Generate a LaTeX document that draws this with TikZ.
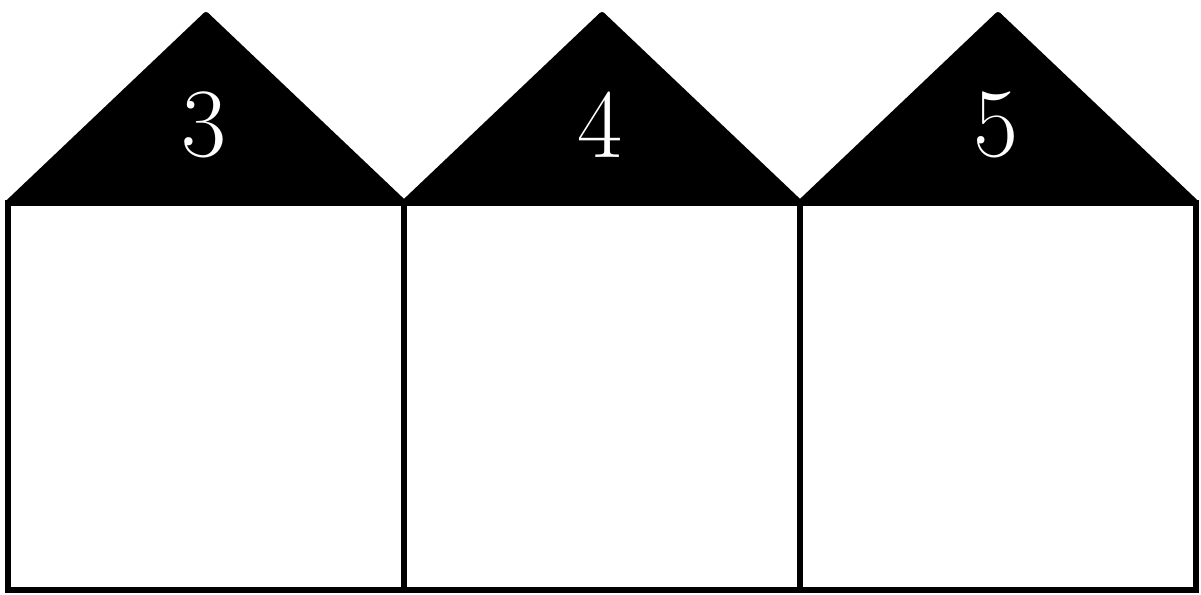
\documentclass[tikz,border=0pt]{standalone}
\begin{document}
\begin{tikzpicture}[x=1pt,y=-1pt,
  wall/.style={draw=black,line width=6pt,fill=white,line join=miter},
  roof/.style={draw=black,fill=black,line width=6pt,line join=round},
  num/.style={text=white,font=\fontsize{98}{98}\selectfont,inner sep=0pt}]
\useasboundingbox (0,0) rectangle (1201,594);
\foreach \i/\n in {0/3,1/4,2/5}{
  \pgfmathsetmacro{\xl}{8+396*\i}
  \pgfmathsetmacro{\xr}{\xl+396}
  \pgfmathsetmacro{\xm}{\xl+198}
  \draw[roof] (\xl,203) -- (\xm,15) -- (\xr,203) -- cycle;
  \node[num] (n\n) at (\xm-2,125) {\n};
}
\draw[wall] (8,203) rectangle (1196,590);
\draw[line width=6pt] (404,203) -- (404,590) (800,203) -- (800,590);
\end{tikzpicture}
\end{document}
